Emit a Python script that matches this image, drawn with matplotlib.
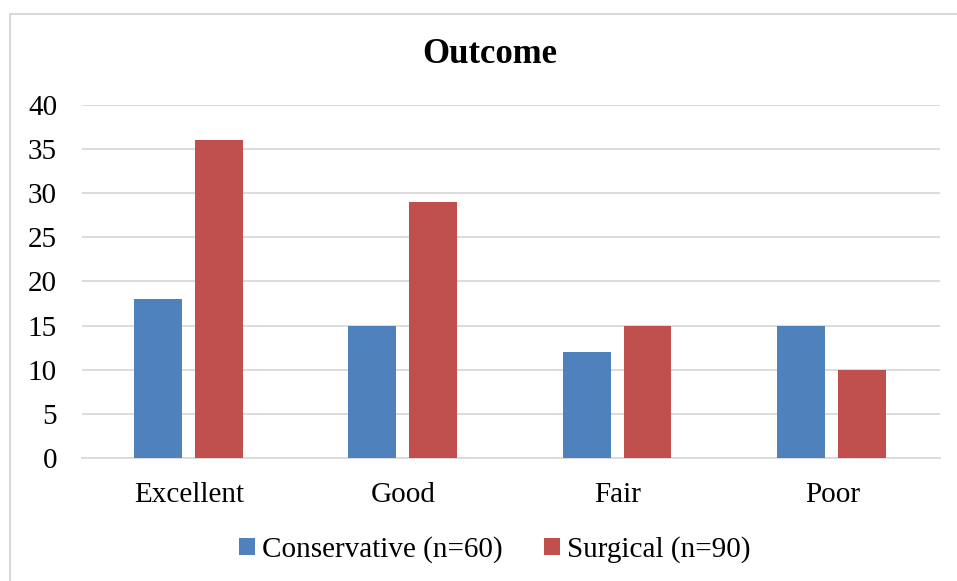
import numpy as np
import matplotlib.pyplot as plt
from matplotlib.patches import Rectangle

categories = ["Excellent", "Good", "Fair", "Poor"]
conservative = [18, 15, 12, 15]
surgical = [36, 29, 15, 10]
series_labels = ["Conservative (n=60)", "Surgical (n=90)"]

BLUE = "#4F81BD"
RED = "#C0504D"
GRID = "#D9D9D9"

plt.rcParams["font.family"] = ["Liberation Serif", "DejaVu Serif"]

fig = plt.figure(figsize=(9.57, 5.81), dpi=100)
ax = fig.add_axes([0.0857, 0.2117, 0.8963, 0.6076])

x = np.arange(len(categories))
w = 0.223
ax.bar(x - 0.147, conservative, w, color=BLUE, label=series_labels[0], zorder=3)
ax.bar(x + 0.137, surgical, w, color=RED, label=series_labels[1], zorder=3)

ax.set_xlim(-0.5, len(categories) - 0.5)
ax.set_ylim(0, 40)
ax.set_yticks(range(0, 41, 5))
ax.yaxis.grid(True, color=GRID, linewidth=1.3, zorder=0)
ax.set_xticks(x)
ax.set_xticklabels(categories)
ax.tick_params(axis="both", length=0, labelsize=21)
ax.tick_params(axis="x", pad=17)
ax.tick_params(axis="y", pad=18)
for side in ["top", "right", "left"]:
    ax.spines[side].set_visible(False)
ax.spines["bottom"].set_color(GRID)
ax.spines["bottom"].set_linewidth(1.3)

fig.text(0.512, 0.907, "Outcome", ha="center", va="center",
         fontsize=25, fontweight="bold")

fig.legend(loc="center", bbox_to_anchor=(0.517, 0.054), ncol=2, frameon=False,
           fontsize=21, handlelength=0.55, handleheight=0.55, handletextpad=0.25,
           columnspacing=1.4)

# outer chart border
fig.patches.append(Rectangle((0.0105, -0.1), 1.2, 1.076, transform=fig.transFigure,
                             fill=False, edgecolor=GRID, linewidth=1.5))

fig.savefig("out.png", dpi=100)
